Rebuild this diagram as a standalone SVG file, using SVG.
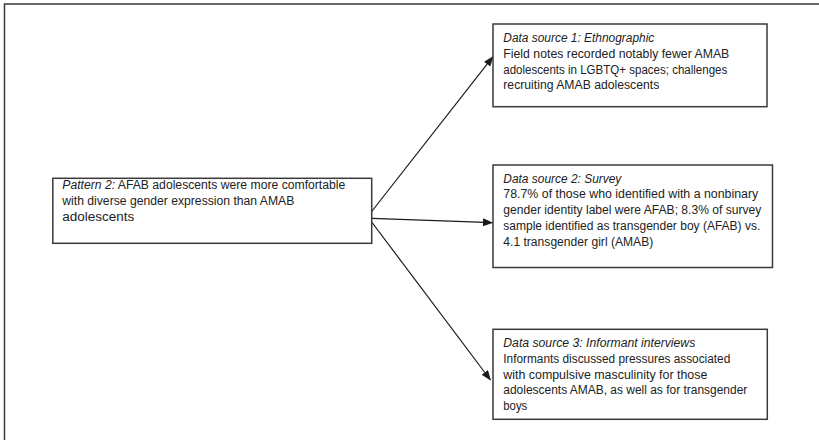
<svg xmlns="http://www.w3.org/2000/svg" width="819" height="440" viewBox="0 0 819 440">
<style>
.box{fill:#fff;stroke:#3a3a3a;stroke-width:1.5}
.t{font-family:"Liberation Sans",Arial,sans-serif;font-size:12.5px;fill:#222}
.i{font-style:italic}
.c{stroke:#1a1a1a;stroke-width:1.2;fill:none}
</style>
<defs>
<marker id="ah" markerWidth="10" markerHeight="8" refX="9.5" refY="4" orient="auto" markerUnits="userSpaceOnUse">
<path d="M0,0 L10,4 L0,8 Z" fill="#1a1a1a"/>
</marker>
</defs>
<rect width="819" height="440" fill="#fff"/>
<path d="M4.5,440 V4 H819" fill="none" stroke="#3a3a3a" stroke-width="1.5"/>
<g id="connectors">
<line class="c" x1="371.7" y1="211.5" x2="493" y2="56.7" marker-end="url(#ah)"/>
<line class="c" x1="371.7" y1="218.3" x2="492.5" y2="222.7" marker-end="url(#ah)"/>
<line class="c" x1="371.7" y1="222" x2="490.5" y2="380" marker-end="url(#ah)"/>
</g>
<g id="pattern">
<rect class="box" x="52.8" y="178.3" width="318.9" height="65"/>
<text class="t" x="62.3" y="189" textLength="283" lengthAdjust="spacingAndGlyphs"><tspan class="i">Pattern 2:</tspan> AFAB adolescents were more comfortable</text>
<text class="t" x="62.3" y="205" textLength="232" lengthAdjust="spacingAndGlyphs">with diverse gender expression than AMAB</text>
<text class="t" x="62.3" y="221" textLength="72" lengthAdjust="spacingAndGlyphs">adolescents</text>
</g>
<g id="source1">
<rect class="box" x="493" y="24" width="274" height="82.7"/>
<text class="t i" x="503.3" y="41.7" textLength="151" lengthAdjust="spacingAndGlyphs">Data source 1: Ethnographic</text>
<text class="t" x="503.3" y="57.7" textLength="226" lengthAdjust="spacingAndGlyphs">Field notes recorded notably fewer AMAB</text>
<text class="t" x="503.3" y="73.5" textLength="224" lengthAdjust="spacingAndGlyphs">adolescents in LGBTQ+ spaces; challenges</text>
<text class="t" x="503.3" y="89.3" textLength="156" lengthAdjust="spacingAndGlyphs">recruiting AMAB adolescents</text>
</g>
<g id="source2">
<rect class="box" x="493" y="165" width="279.5" height="102.5"/>
<text class="t i" x="503.3" y="182.5" textLength="118" lengthAdjust="spacingAndGlyphs">Data source 2: Survey</text>
<text class="t" x="503.3" y="198.3" textLength="255" lengthAdjust="spacingAndGlyphs">78.7% of those who identified with a nonbinary</text>
<text class="t" x="503.3" y="214.3" textLength="258" lengthAdjust="spacingAndGlyphs">gender identity label were AFAB; 8.3% of survey</text>
<text class="t" x="503.3" y="230.2" textLength="257" lengthAdjust="spacingAndGlyphs">sample identified as transgender boy (AFAB) vs.</text>
<text class="t" x="503.3" y="246.1" textLength="150" lengthAdjust="spacingAndGlyphs">4.1 transgender girl (AMAB)</text>
</g>
<g id="source3">
<rect class="box" x="493" y="329.3" width="274.3" height="90"/>
<text class="t i" x="503.3" y="346.7" textLength="192" lengthAdjust="spacingAndGlyphs">Data source 3: Informant interviews</text>
<text class="t" x="503.3" y="362.7" textLength="227" lengthAdjust="spacingAndGlyphs">Informants discussed pressures associated</text>
<text class="t" x="503.3" y="378.5" textLength="204" lengthAdjust="spacingAndGlyphs">with compulsive masculinity for those</text>
<text class="t" x="503.3" y="394.3" textLength="244" lengthAdjust="spacingAndGlyphs">adolescents AMAB, as well as for transgender</text>
<text class="t" x="503.3" y="410.2" textLength="24" lengthAdjust="spacingAndGlyphs">boys</text>
</g>
</svg>
